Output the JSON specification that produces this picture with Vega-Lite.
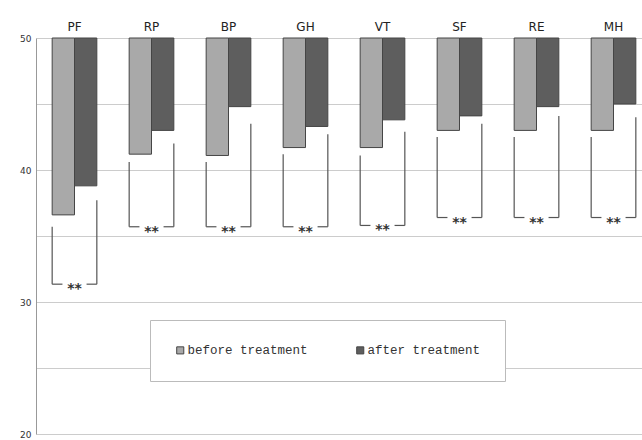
{
  "$schema": "https://vega.github.io/schema/vega-lite/v6.json",
  "width": 616,
  "height": 396,
  "autosize": "none",
  "padding": {"left": 36, "top": 38, "right": 0, "bottom": 6},
  "background": "white",
  "datasets": {
    "scores": [
      {"item": "PF", "group": "before treatment", "score": 36.6},
      {"item": "PF", "group": "after treatment", "score": 38.8},
      {"item": "RP", "group": "before treatment", "score": 41.2},
      {"item": "RP", "group": "after treatment", "score": 43.0},
      {"item": "BP", "group": "before treatment", "score": 41.1},
      {"item": "BP", "group": "after treatment", "score": 44.8},
      {"item": "GH", "group": "before treatment", "score": 41.7},
      {"item": "GH", "group": "after treatment", "score": 43.3},
      {"item": "VT", "group": "before treatment", "score": 41.7},
      {"item": "VT", "group": "after treatment", "score": 43.8},
      {"item": "SF", "group": "before treatment", "score": 43.0},
      {"item": "SF", "group": "after treatment", "score": 44.1},
      {"item": "RE", "group": "before treatment", "score": 43.0},
      {"item": "RE", "group": "after treatment", "score": 44.8},
      {"item": "MH", "group": "before treatment", "score": 43.0},
      {"item": "MH", "group": "after treatment", "score": 45.0}
    ],
    "brackets": [
      {"item": "PF", "leftTop": 35.7, "rightTop": 37.7, "bottom": 31.35},
      {"item": "RP", "leftTop": 40.6, "rightTop": 42.0, "bottom": 35.7},
      {"item": "BP", "leftTop": 40.6, "rightTop": 43.5, "bottom": 35.7},
      {"item": "GH", "leftTop": 41.2, "rightTop": 42.7, "bottom": 35.7},
      {"item": "VT", "leftTop": 41.1, "rightTop": 42.9, "bottom": 35.8},
      {"item": "SF", "leftTop": 42.5, "rightTop": 43.5, "bottom": 36.4},
      {"item": "RE", "leftTop": 42.5, "rightTop": 44.1, "bottom": 36.4},
      {"item": "MH", "leftTop": 42.5, "rightTop": 44.0, "bottom": 36.4}
    ]
  },
  "layer": [
    {
      "data": {"name": "scores"},
      "mark": {"type": "bar", "stroke": "#454545", "strokeWidth": 1},
      "encoding": {
        "x": {"field": "item", "type": "nominal", "sort": null, "title": null,
              "scale": {"paddingInner": 0.42, "paddingOuter": 0.21},
              "axis": {"orient": "top", "domain": false, "ticks": false, "labelAngle": 0, "labelPadding": 5, "labelFontSize": 12, "labelColor": "#222", "labelFont": "DejaVu Sans"}},
        "xOffset": {"field": "group", "type": "nominal", "sort": ["before treatment", "after treatment"]},
        "y": {"field": "score", "type": "quantitative", "title": null,
              "scale": {"domain": [20, 50], "nice": false, "zero": false},
              "axis": {"values": [20, 25, 30, 35, 40, 45, 50], "labelExpr": "datum.value % 10 == 0 ? datum.label : ''", "ticks": false, "labelPadding": 5, "labelFontSize": 9, "labelColor": "#333", "domainColor": "#999", "gridColor": "#cccccc", "grid": true}},
        "y2": {"datum": 50},
        "color": {"field": "group", "type": "nominal", "title": null,
                  "scale": {"domain": ["before treatment", "after treatment"], "range": ["#a9a9a9", "#5e5e5e"]},
                  "legend": {"orient": "none", "legendX": 114, "legendY": 282, "direction": "horizontal", "strokeColor": "#bbbbbb", "fillColor": "white", "padding": 24, "columnPadding": 46, "labelFont": "Liberation Mono", "labelFontSize": 12.5, "labelColor": "#333", "symbolType": "square", "symbolSize": 50, "symbolStrokeColor": "#444", "symbolStrokeWidth": 1, "labelOffset": 1}}
      }
    },
    {
      "data": {"name": "brackets"},
      "mark": {"type": "rule", "color": "#555", "strokeWidth": 1.2},
      "encoding": {
        "x": {"field": "item", "type": "nominal", "sort": null, "title": null, "bandPosition": 0},
        "y": {"field": "leftTop", "type": "quantitative", "title": null},
        "y2": {"field": "bottom"}
      }
    },
    {
      "data": {"name": "brackets"},
      "mark": {"type": "rule", "color": "#555", "strokeWidth": 1.2},
      "encoding": {
        "x": {"field": "item", "type": "nominal", "sort": null, "title": null, "bandPosition": 1},
        "y": {"field": "rightTop", "type": "quantitative", "title": null},
        "y2": {"field": "bottom"}
      }
    },
    {
      "data": {"name": "brackets"},
      "mark": {"type": "rule", "color": "#555", "strokeWidth": 1.2},
      "encoding": {
        "x": {"field": "item", "type": "nominal", "sort": null, "title": null, "bandPosition": 0},
        "x2": {"field": "item", "bandPosition": 0.23},
        "y": {"field": "bottom", "type": "quantitative", "title": null}
      }
    },
    {
      "data": {"name": "brackets"},
      "mark": {"type": "rule", "color": "#555", "strokeWidth": 1.2},
      "encoding": {
        "x": {"field": "item", "type": "nominal", "sort": null, "title": null, "bandPosition": 0.77},
        "x2": {"field": "item", "bandPosition": 1},
        "y": {"field": "bottom", "type": "quantitative", "title": null}
      }
    },
    {
      "data": {"name": "brackets"},
      "mark": {"type": "text", "text": "**", "fontSize": 14, "fontWeight": "bold", "color": "#333", "baseline": "middle", "dy": 5, "font": "DejaVu Sans"},
      "encoding": {
        "x": {"field": "item", "type": "nominal", "sort": null, "title": null},
        "y": {"field": "bottom", "type": "quantitative", "title": null}
      }
    }
  ],
  "config": {
    "view": {"stroke": null},
    "font": "DejaVu Sans"
  }
}
